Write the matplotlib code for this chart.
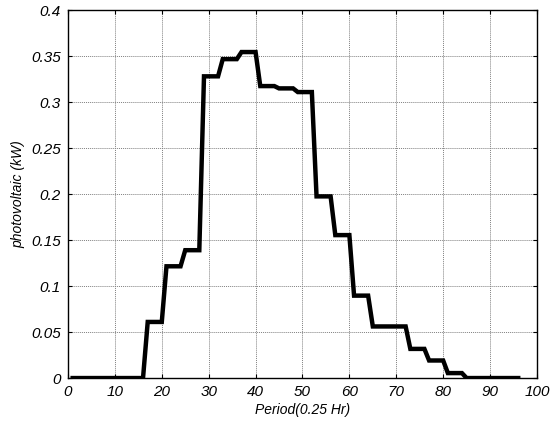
import numpy as np
import matplotlib.pyplot as plt

# hourly PV output (kW), each hour = 4 periods of 0.25 Hr
hourly_pv = [0, 0, 0, 0, 0.061, 0.1215, 0.139, 0.328, 0.3467, 0.3544, 0.3174, 0.3149,
             0.3109, 0.1975, 0.1554, 0.0896, 0.0561, 0.0561, 0.0317, 0.0191, 0.0054, 0, 0, 0]
periods = np.arange(1, 97)
pv = np.repeat(hourly_pv, 4)

plt.rcParams['font.family'] = ['Liberation Sans', 'DejaVu Sans']
plt.rcParams['font.style'] = 'italic'

fig = plt.figure(figsize=(5.55, 4.21), dpi=100)
ax = fig.add_axes([0.1225, 0.102, 0.845, 0.874])

ax.plot(periods, pv, color='black', linewidth=3.2, solid_joinstyle='miter')

ax.set_xlim(0, 100)
ax.set_ylim(0, 0.4)
ax.set_xticks(np.arange(0, 101, 10))
ax.set_yticks(np.arange(0, 0.41, 0.05))
ax.set_yticklabels(['0', '0.05', '0.1', '0.15', '0.2', '0.25', '0.3', '0.35', '0.4'])
ax.grid(True, color='#808080', linestyle=(0, (1, 1)), linewidth=0.7)
ax.tick_params(direction='in', top=True, right=True, labelsize=11, length=3, pad=5)
for s in ax.spines.values():
    s.set_linewidth(1.0)

ax.set_xlabel('Period(0.25 Hr)', fontsize=10, labelpad=3)
ax.set_ylabel('photovoltaic (kW)', fontsize=10, labelpad=4)

plt.savefig('out.png')
